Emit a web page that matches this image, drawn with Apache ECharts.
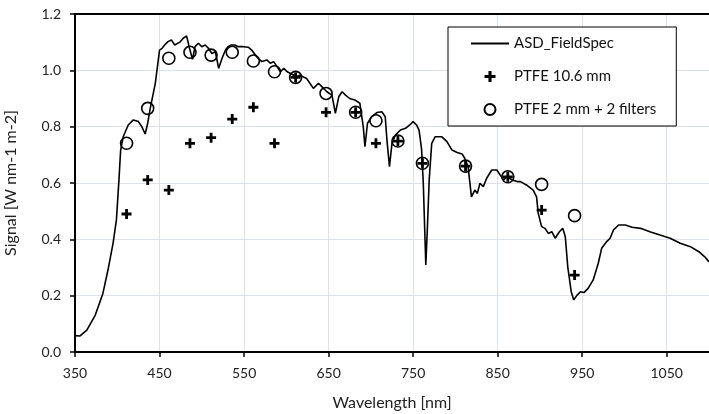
<!DOCTYPE html>
<html><head><meta charset="utf-8">
<script src="https://cdn.jsdelivr.net/npm/echarts@6/dist/echarts.min.js"></script>
<style>html,body{margin:0;padding:0;background:#fff}#c{width:709px;height:414px}</style>
</head><body><div id="c"></div>
<script>
const asdWavelength = [350,356,364,374,383,389,395,399,402,404,407,413,419,425,429,433,436,439,445,450,453,456,460,464,468,474,478,482,485,489,492,496,500,504,508,512,516,520,524,528,531,535,539,543,549,555,559,565,571,577,581,585,589,593,597,601,605,612,616,624,632,638,642,648,654,658,662,666,670,675,681,687,691,693,696,701,707,713,717,719,722,725,729,735,741,746,750,754,757,760,762,765,767,769,772,776,784,790,796,802,808,811,815,819,823,826,829,833,837,843,849,853,857,861,867,873,877,884,892,896,898,902,906,910,914,918,923,927,930,933,937,940,944,948,952,957,963,969,973,979,983,987,993,1001,1009,1019,1030,1042,1054,1066,1078,1088,1095,1100];
const asdSignal = [0.058,0.057,0.078,0.131,0.208,0.291,0.386,0.469,0.611,0.717,0.764,0.806,0.824,0.818,0.800,0.774,0.812,0.865,0.954,1.072,1.078,1.090,1.102,1.108,1.090,1.100,1.114,1.122,1.084,1.039,1.084,1.096,1.084,1.090,1.078,1.060,1.066,1.007,1.043,1.072,1.084,1.090,1.090,1.084,1.084,1.082,1.072,1.048,1.031,1.037,1.025,1.031,1.013,0.995,1.007,0.995,0.989,0.977,0.983,0.971,0.936,0.954,0.942,0.924,0.912,0.847,0.906,0.924,0.912,0.900,0.895,0.883,0.800,0.729,0.812,0.835,0.850,0.853,0.835,0.753,0.658,0.741,0.770,0.788,0.794,0.806,0.818,0.806,0.788,0.720,0.600,0.309,0.450,0.611,0.741,0.764,0.764,0.747,0.717,0.708,0.703,0.688,0.658,0.551,0.575,0.563,0.599,0.587,0.617,0.646,0.646,0.628,0.611,0.622,0.611,0.605,0.605,0.593,0.575,0.551,0.492,0.445,0.439,0.421,0.427,0.404,0.427,0.439,0.409,0.300,0.214,0.185,0.202,0.214,0.211,0.226,0.256,0.315,0.368,0.392,0.404,0.433,0.451,0.451,0.443,0.439,0.427,0.415,0.404,0.386,0.374,0.356,0.338,0.320];
const ptfeWavelength = [411,436,461,486,511,536,561,586,611,647,682,706,732,761,812,862,902,941];
const ptfe106Signal = [0.490,0.611,0.575,0.741,0.761,0.827,0.869,0.741,0.975,0.851,0.851,0.741,0.749,0.670,0.660,0.622,0.504,0.273];
const ptfe2Signal = [0.741,0.865,1.043,1.064,1.054,1.064,1.033,0.995,0.975,0.918,0.851,0.821,0.749,0.670,0.660,0.622,0.595,0.484];
const xTicks = [350,450,550,650,750,850,950,1050];
const yTicks = [0,0.2,0.4,0.6,0.8,1.0,1.2];
const seriesNames = ['ASD_FieldSpec','PTFE 10.6 mm','PTFE 2 mm + 2 filters'];

const FONT = 'Lato';
const zip = (xs, ys) => xs.map((x, i) => [x, ys[i]]);
const PLUS = 'path://M3.6,0H6.4V3.6H10V6.4H6.4V10H3.6V6.4H0V3.6H3.6Z';

const chart = echarts.init(document.getElementById('c'), null, {renderer: 'canvas'});
chart.setOption({
  animation: false,
  backgroundColor: '#fff',
  textStyle: {fontFamily: FONT},
  grid: {left: 75, right: 0, top: 14, bottom: 62, containLabel: false, outerBoundsMode: 'none'},
  legend: {
    orient: 'vertical', left: 448, top: 27,
    data: [
      {name: seriesNames[0], itemStyle: {color: 'rgba(0,0,0,0)', borderWidth: 0, opacity: 0}},
      {name: seriesNames[1]},
      {name: seriesNames[2]}
    ],
    backgroundColor: '#fff', borderColor: '#000', borderWidth: 1,
    padding: [9, 20, 9, 22],
    itemWidth: 38, itemHeight: 11, itemGap: 18,
    textStyle: {fontFamily: FONT, fontSize: 15, color: '#111', lineHeight: 14}
  },
  xAxis: [{
    type: 'value', min: 350, max: 1100, position: 'bottom',
    name: 'Wavelength [nm]', nameLocation: 'middle', nameGap: 43,
    nameTextStyle: {fontFamily: FONT, fontSize: 16, color: '#222'},
    axisLine: {show: true, onZero: false, lineStyle: {color: '#000', width: 2}},
    axisTick: {show: true, customValues: xTicks, length: 5, lineStyle: {color: '#000', width: 1.5}},
    axisLabel: {customValues: xTicks, margin: 14, fontFamily: FONT, fontSize: 14, color: '#222', formatter: v => String(v)},
    splitLine: {show: true, lineStyle: {color: '#dde2e8', width: 1}}
  }, {
    type: 'value', min: 350, max: 1100, position: 'top',
    axisLine: {show: true, onZero: false, lineStyle: {color: '#000', width: 2}},
    axisTick: {show: false}, axisLabel: {show: false}, splitLine: {show: false}
  }],
  yAxis: {
    type: 'value', min: 0, max: 1.2, interval: 0.2,
    name: 'Signal [W nm-1 m-2]', nameLocation: 'middle', nameGap: 56, nameRotate: 90,
    nameTextStyle: {fontFamily: FONT, fontSize: 16, color: '#222'},
    axisLine: {show: true, lineStyle: {color: '#000', width: 2}},
    axisTick: {show: true, length: 5, lineStyle: {color: '#000', width: 1.5}},
    axisLabel: {margin: 14, fontFamily: FONT, fontSize: 14, color: '#222', formatter: v => v.toFixed(1)},
    splitLine: {show: true, lineStyle: {color: '#dde2e8', width: 1}}
  },
  series: [{
    name: seriesNames[0], type: 'line', xAxisIndex: 0,
    data: zip(asdWavelength, asdSignal),
    symbol: 'none', showSymbol: false,
    lineStyle: {color: '#000', width: 1.6}, itemStyle: {color: '#000'}, z: 3
  }, {
    name: seriesNames[1], type: 'scatter', xAxisIndex: 0,
    data: zip(ptfeWavelength, ptfe106Signal),
    symbol: PLUS, symbolSize: 10, symbolKeepAspect: true,
    itemStyle: {color: '#000', opacity: 1}, z: 4
  }, {
    name: seriesNames[2], type: 'scatter', xAxisIndex: 0,
    data: zip(ptfeWavelength, ptfe2Signal),
    symbol: 'circle', symbolSize: 12,
    itemStyle: {color: 'rgba(0,0,0,0)', borderColor: '#000', borderWidth: 1.6, opacity: 1}, z: 5
  }]
});
</script>
</body></html>
